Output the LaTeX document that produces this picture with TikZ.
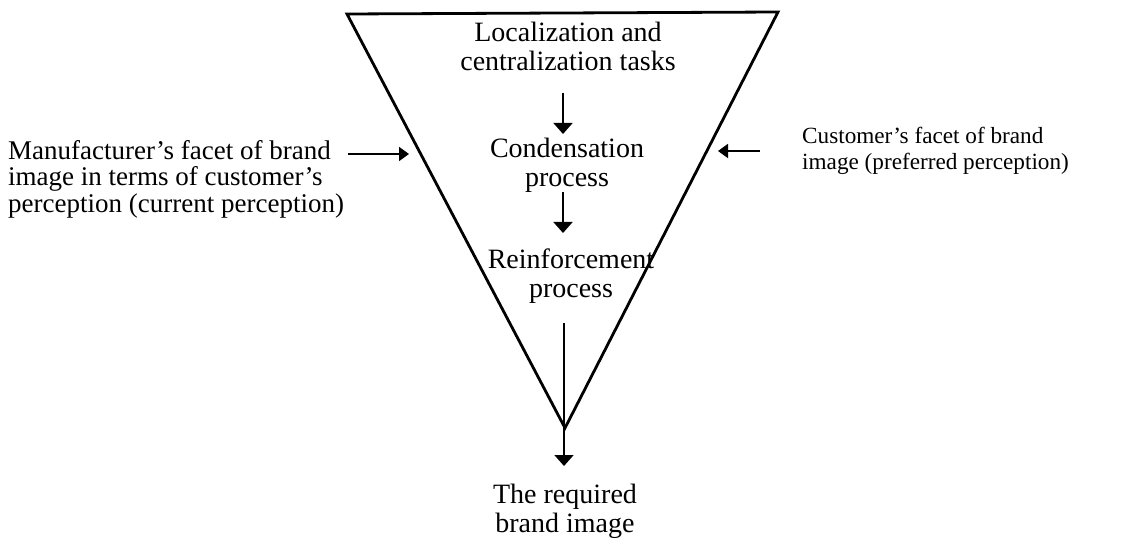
\documentclass[tikz,border=0pt]{standalone}
\usepackage{fontspec}
\setmainfont{Liberation Serif}
\usetikzlibrary{arrows.meta}
\begin{document}
\begin{tikzpicture}[x=1pt,y=-1pt,
  funnel/.style={line width=2.8pt,line join=miter},
  flow/.style={line width=1.8pt,-{Triangle[width=19pt,length=11pt]}},
  side/.style={line width=1.8pt,-{Triangle[width=14pt,length=10pt]}},
  stage/.style={align=center,inner sep=0pt,font=\fontsize{28}{29}\selectfont},
  facet/.style={align=left,inner sep=0pt,anchor=west}]
\useasboundingbox (0,0) rectangle (1124,548);

% funnel outline
\coordinate (tl) at (347,14);
\coordinate (tr) at (778,12);
\coordinate (tip) at (565,428);
\draw[funnel] (tl) -- (tr) -- (tip) -- cycle;

% stages inside the funnel
\node[stage] (loc) at (568,46) {Localization and\\centralization tasks};
\node[stage] (cond) at (567,165) {Condensation\\process};
\node[stage] (reinf) at (571,276) {Reinforcement\\process};
\node[stage] (req) at (565,511) {The required\\brand image};

% facets on either side
\node[facet,font=\fontsize{27}{26.5}\selectfont] (manu) at (8,179)
  {Manufacturer’s facet of brand\\image in terms of customer’s\\perception (current perception)};
\node[facet,font=\fontsize{23.2}{26}\selectfont] (cust) at (802,151)
  {Customer’s facet of brand\\image (preferred perception)};

% arrow end points
\coordinate (a1) at (563,93);
\coordinate (b1) at (563,134);
\coordinate (a2) at (563,192);
\coordinate (b2) at (563,233);
\coordinate (a3) at (564,323);
\coordinate (b3) at (564,466);
\coordinate (ml) at (348,154);
\coordinate (mr) at (409,154);
\coordinate (cr) at (760,151);
\coordinate (cl) at (718,151);

\draw[flow] (a1) -- (b1);
\draw[flow] (a2) -- (b2);
\draw[flow] (a3) -- (b3);
\draw[side] (ml) -- (mr);
\draw[side] (cr) -- (cl);
\end{tikzpicture}
\end{document}
